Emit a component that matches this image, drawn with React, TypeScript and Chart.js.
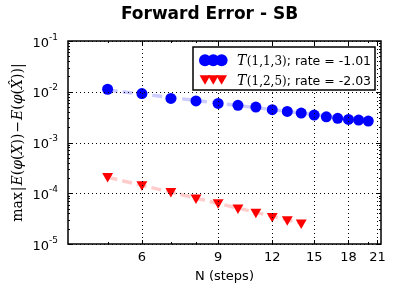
import React, { useEffect, useRef } from "react";
import { Chart, registerables } from "chart.js";

Chart.register(...registerables);

// ---- data ----
const stepsT113 = [5, 6, 7, 8, 9, 10, 11, 12, 13, 14, 15, 16, 17, 18, 19, 20];
const errT113 = [0.0112, 0.0092, 0.0074, 0.0066, 0.0059, 0.0054, 0.005, 0.00444, 0.0041, 0.0038, 0.00347, 0.0032, 0.003, 0.00285, 0.00276, 0.00264];
const stepsT125 = [5, 6, 7, 8, 9, 10, 11, 12, 13, 14];
const errT125 = [0.000217, 0.000149, 0.00011, 0.000082, 0.000066, 0.000052, 0.000043, 0.0000355, 0.0000305, 0.0000263];
const fitStepsT113 = [5, 20];
const fitT113 = [0.0108, 0.00266];
const fitStepsT125 = [5, 14];
const fitT125 = [0.000207, 0.0000258];

const xMajorTicks = [6, 9, 12, 15, 18, 21];
const xMinorTicks = [5, 6, 7, 8, 9, 20];
const yMajorExps = [-1, -2, -3, -4, -5];
const yMinorSubs = [2, 3, 4, 5, 6, 7, 8, 9];

const legendMath = ["(1,1,3)", "(1,2,5)"];
const legendRest = ["; rate = -1.01", "; rate = -2.03"];
const titleText = "Forward Error - SB";
const xTitleText = "N (steps)";

const BLUE = "#0000ff";
const RED = "#ff0000";
const SANS = "'DejaVu Sans', sans-serif";
const SERIF = "'DejaVu Serif', 'Liberation Serif', serif";

function toXY(xs: number[], ys: number[]) {
  return xs.map((x, i) => ({ x, y: ys[i] }));
}

function drawTriDown(ctx: CanvasRenderingContext2D, x: number, y: number, r: number) {
  ctx.beginPath();
  ctx.moveTo(x, y + r);
  ctx.lineTo(x - r * Math.sin(Math.PI / 3), y - r / 2);
  ctx.lineTo(x + r * Math.sin(Math.PI / 3), y - r / 2);
  ctx.closePath();
  ctx.fill();
}

const mplPlugin = {
  id: "mplLook",
  beforeDraw(chart: any) {
    const ctx = chart.ctx;
    ctx.save();
    ctx.fillStyle = "#ffffff";
    ctx.fillRect(0, 0, chart.width, chart.height);
    ctx.restore();
  },
  afterDatasetsDraw(chart: any) {
    const { ctx, chartArea: a } = chart;
    const xs = chart.scales.x;
    const ys = chart.scales.y;
    ctx.save();
    ctx.strokeStyle = "#000";
    ctx.lineWidth = 1;
    ctx.setLineDash([1, 3]);
    for (const v of xMajorTicks) {
      const px = Math.round(xs.getPixelForValue(v)) + 0.5;
      ctx.beginPath();
      ctx.moveTo(px, a.top);
      ctx.lineTo(px, a.bottom);
      ctx.stroke();
    }
    for (const e of yMajorExps) {
      const py = Math.round(ys.getPixelForValue(Math.pow(10, e))) + 0.5;
      ctx.beginPath();
      ctx.moveTo(a.left, py);
      ctx.lineTo(a.right, py);
      ctx.stroke();
    }
    ctx.setLineDash([]);
    const tick = (x1: number, y1: number, x2: number, y2: number) => {
      ctx.beginPath();
      ctx.moveTo(x1, y1);
      ctx.lineTo(x2, y2);
      ctx.stroke();
    };
    ctx.lineWidth = 1;
    for (const v of xMajorTicks) {
      const px = Math.round(xs.getPixelForValue(v)) + 0.5;
      tick(px, a.bottom, px, a.bottom - 4);
      tick(px, a.top, px, a.top + 4);
    }
    for (const v of xMinorTicks) {
      const px = Math.round(xs.getPixelForValue(v)) + 0.5;
      tick(px, a.bottom, px, a.bottom - 2);
      tick(px, a.top, px, a.top + 2);
    }
    for (const e of yMajorExps) {
      const py = Math.round(ys.getPixelForValue(Math.pow(10, e))) + 0.5;
      tick(a.left, py, a.left + 4, py);
      tick(a.right, py, a.right - 4, py);
      if (e > -5) {
        for (const s of yMinorSubs) {
          const pm = Math.round(ys.getPixelForValue(s * Math.pow(10, e - 1))) + 0.5;
          tick(a.left, pm, a.left + 2, pm);
          tick(a.right, pm, a.right - 2, pm);
        }
      }
    }
    ctx.lineWidth = 1.5;
    ctx.strokeRect(a.left, a.top, a.right - a.left, a.bottom - a.top);
    ctx.restore();
  },
  afterDraw(chart: any) {
    const { ctx, chartArea: a } = chart;
    const xs = chart.scales.x;
    const ys = chart.scales.y;
    ctx.save();
    ctx.fillStyle = "#000";
    ctx.font = `bold 17px ${SANS}`;
    ctx.textAlign = "center";
    ctx.textBaseline = "alphabetic";
    ctx.fillText(titleText, 209.5, 19);
    ctx.font = `13px ${SANS}`;
    for (const v of xMajorTicks) {
      ctx.fillText(String(v), xs.getPixelForValue(v), 261);
    }
    ctx.fillText(xTitleText, (a.left + a.right) / 2, 280);
    for (const e of yMajorExps) {
      const py = ys.getPixelForValue(Math.pow(10, e));
      const expStr = String(e);
      ctx.font = `9px ${SANS}`;
      const ew = ctx.measureText(expStr).width;
      ctx.font = `13px ${SANS}`;
      const bw = ctx.measureText("10").width;
      const right = 58;
      ctx.textAlign = "left";
      ctx.fillText("10", right - ew - bw, py + 5.5);
      ctx.font = `9px ${SANS}`;
      ctx.fillText(expStr, right - ew, py - 1.5);
    }
    ctx.save();
    ctx.translate(18, (a.top + a.bottom) / 2);
    ctx.rotate(-Math.PI / 2);
    const segs: [string, string][] = [
      ["max", `14px ${SERIF}`],
      ["|", `14px ${SERIF}`],
      ["E", `italic 14px ${SERIF}`],
      ["(", `14px ${SERIF}`],
      ["φ", `italic 14px ${SERIF}`],
      ["(", `14px ${SERIF}`],
      ["X", `italic 14px ${SERIF}`],
      ["))", `14px ${SERIF}`],
      ["−", `14px ${SERIF}`],
      ["E", `italic 14px ${SERIF}`],
      ["(", `14px ${SERIF}`],
      ["φ", `italic 14px ${SERIF}`],
      ["(", `14px ${SERIF}`],
      ["X\u0302", `italic 14px ${SERIF}`],
      ["))|", `14px ${SERIF}`],
    ];
    let total = 0;
    for (const [t, f] of segs) {
      ctx.font = f;
      total += ctx.measureText(t).width + (t === "|" || t === "−" ? 2 : 0);
    }
    let cx = -total / 2;
    ctx.textAlign = "left";
    for (const [t, f] of segs) {
      ctx.font = f;
      const w = ctx.measureText(t).width;
      const pad = t === "|" || t === "−" ? 1 : 0;
      ctx.fillText(t, cx + pad, 4);
      cx += w + pad * 2;
    }
    ctx.restore();
    const lx = 193, ly = 47, lw = 182, lh = 43;
    ctx.fillStyle = "#fff";
    ctx.fillRect(lx, ly, lw, lh);
    ctx.strokeStyle = "#000";
    ctx.lineWidth = 1.5;
    ctx.strokeRect(lx, ly, lw, lh);
    const rows = [60.3, 80];
    const markX = [205, 213.3, 221.6];
    ctx.fillStyle = BLUE;
    for (const mx of markX) {
      ctx.beginPath();
      ctx.arc(mx, rows[0], 6, 0, Math.PI * 2);
      ctx.fill();
    }
    ctx.fillStyle = RED;
    for (const mx of markX) {
      drawTriDown(ctx, mx, rows[1] - 1.5, 6.3);
    }
    ctx.fillStyle = "#000";
    for (let i = 0; i < 2; i++) {
      const base = rows[i] + 4.5;
      let tx = 237;
      ctx.font = `italic 14px ${SERIF}`;
      ctx.fillText("T", tx, base);
      tx += ctx.measureText("T").width + 0.5;
      ctx.font = `12px ${SERIF}`;
      ctx.fillText(legendMath[i], tx, base);
      tx += ctx.measureText(legendMath[i]).width;
      ctx.font = `12.5px ${SANS}`;
      ctx.fillText(legendRest[i], tx, base);
    }
    ctx.restore();
  },
};

export default function App() {
  const ref = useRef<HTMLCanvasElement | null>(null);
  useEffect(() => {
    if (!ref.current) return;
    const chart = new Chart(ref.current, {
      type: "scatter",
      data: {
        datasets: [
          {
            label: "T(1,1,3)",
            data: toXY(stepsT113, errT113),
            showLine: false,
            pointRadius: 5.5,
            pointBackgroundColor: BLUE,
            pointBorderColor: BLUE,
            pointBorderWidth: 0,
            order: 1,
          },
          {
            label: "T(1,2,5)",
            data: toXY(stepsT125, errT125),
            showLine: false,
            pointStyle: "triangle",
            rotation: 180,
            pointRadius: 6.3,
            pointBackgroundColor: RED,
            pointBorderColor: RED,
            pointBorderWidth: 0,
            order: 1,
          },
          {
            label: "fit113",
            data: toXY(fitStepsT113, fitT113),
            showLine: true,
            borderColor: "rgba(0,0,255,0.2)",
            borderWidth: 3.5,
            borderDash: [10, 5],
            pointRadius: 0,
            order: 2,
          },
          {
            label: "fit125",
            data: toXY(fitStepsT125, fitT125),
            showLine: true,
            borderColor: "rgba(255,0,0,0.2)",
            borderWidth: 3.5,
            borderDash: [10, 5],
            pointRadius: 0,
            order: 2,
          },
        ],
      } as any,
      options: {
        animation: false,
        responsive: false,
        events: [],
        layout: { padding: { left: 68, right: 36, top: 41, bottom: 48 } },
        plugins: { legend: { display: false }, tooltip: { enabled: false }, title: { display: false } },
        scales: {
          x: { type: "logarithmic", min: 4.05, max: 21.4, display: false },
          y: { type: "logarithmic", min: 1e-5, max: 1e-1, display: false },
        },
      } as any,
      plugins: [mplPlugin],
    });
    return () => chart.destroy();
  }, []);
  return (
    <div style={{ position: "absolute", left: 0, top: 0, width: 417, height: 292 }}>
      <canvas ref={ref} width={417} height={292} style={{ width: 417, height: 292, display: "block" }} />
    </div>
  );
}
